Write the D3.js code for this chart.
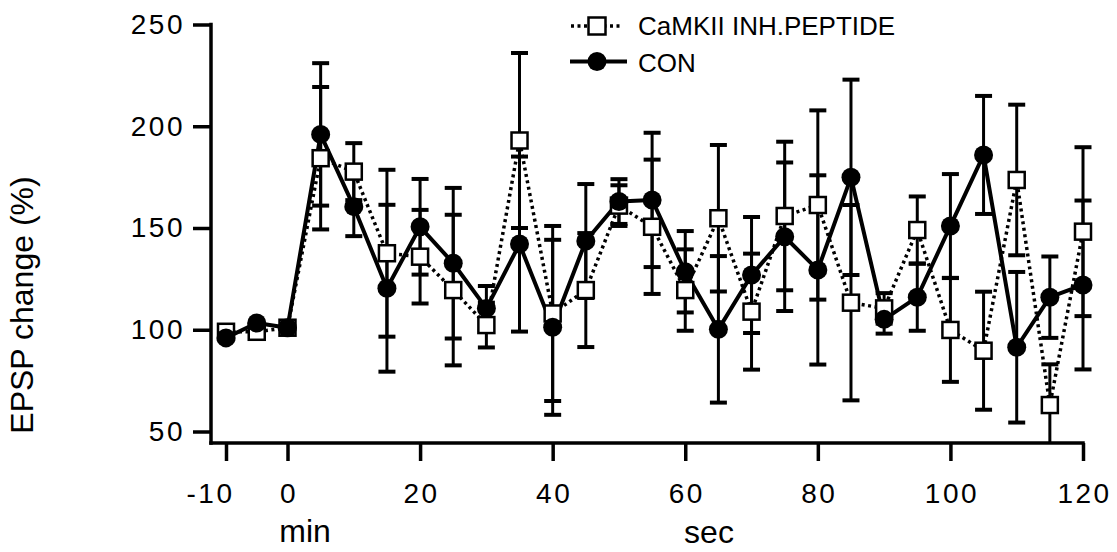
<!DOCTYPE html>
<html>
<head>
<meta charset="utf-8">
<script src="https://cdn.jsdelivr.net/npm/d3@7/dist/d3.min.js"></script>
<style>
  html, body { margin: 0; padding: 0; background: #fff; }
  svg { display: block; font-family: "Liberation Sans", Arial, Helvetica, sans-serif; }
</style>
</head>
<body>
<svg id="chart" width="1117" height="552"></svg>
<script>
// Time points: -10, -5, 0 are minutes before tetanus; the rest are seconds after.
const times = [-10, -5, 0, 5, 10, 15, 20, 25, 30, 35, 40, 45, 50, 55, 60,
               65, 70, 75, 80, 85, 90, 95, 100, 105, 110, 115, 120];

// Control group: EPSP change (%) and error
const conValues = [96, 103.3, 101, 196, 160.5, 120.4, 150.6, 132.7, 110.5, 142.1, 101.2, 143.6, 163, 163.8,
                   128.5, 100.2, 126.9, 145.7, 129.4, 174.9, 105.1, 116, 151, 185.9, 91.4, 116, 122];
const conErrors = [0, 0, 0, 35, 14.5, 41, 23.5, 37, 11, 43, 43, 28, 11, 33,
                   20, 36, 28.5, 36.5, 46.5, 48, 7, 16.5, 25.5, 29, 37, 20, 41.5];

// CaMKII inhibitory peptide group
const pepValues = [99, 99, 101, 184.3, 177.7, 137.6, 135.9, 119.5, 102.3, 193, 108, 119.5, 161, 150.6,
                   119.5, 154.8, 108.9, 155.9, 161.3, 113.3, 110.5, 149, 99.9, 89.7, 173.6, 63, 148.2];
const pepErrors = [0, 0, 0, 35, 14, 41, 23, 37, 11, 43, 43, 28, 10, 33,
                   20, 36, 28.5, 36.5, 46.5, 48, 7.5, 16.5, 25.5, 29, 37, 20, 41.5];

const xTickValues = [-10, 0, 20, 40, 60, 80, 100, 120];
const yTickValues = [50, 100, 150, 200, 250];
const legendLabels = ["CaMKII INH.PEPTIDE", "CON"];

const svg = d3.select("#chart");

// Minutes (-10..0) and seconds (0..120) share one axis with different spacing.
const x = d3.scaleLinear().domain([-10, 0, 120]).range([226, 287.5, 1083]);
const y = d3.scaleLinear().domain([50, 250]).range([431.5, 24.5]);
const axisY = 443;   // vertical position of the x-axis line
const axisX = 211;   // horizontal position of the y-axis line

const ink = "#000";
const tickFont = 28;

// ---- axes ----
const yAxis = d3.axisLeft(y).tickValues(yTickValues).tickSize(18).tickPadding(8);
const gy = svg.append("g").attr("transform", `translate(${axisX},0)`).call(yAxis);
gy.select(".domain").remove();
gy.selectAll(".tick line").attr("stroke", ink).attr("stroke-width", 3.5);
gy.selectAll(".tick text")
  .attr("fill", ink).attr("font-size", tickFont).attr("letter-spacing", 2.5)
  .attr("font-family", "Liberation Sans, Arial, sans-serif");

svg.append("line")
  .attr("x1", axisX).attr("x2", axisX)
  .attr("y1", y(250) - 1.75).attr("y2", axisY + 1.75)
  .attr("stroke", ink).attr("stroke-width", 3.5);

const xAxis = d3.axisBottom(x).tickValues(xTickValues).tickSize(18).tickPadding(22)
  .tickFormat(d => d < 0 ? "-" + Math.abs(d) : String(d));
const gx = svg.append("g").attr("transform", `translate(0,${axisY})`).call(xAxis);
gx.select(".domain").remove();
gx.selectAll(".tick line").attr("stroke", ink).attr("stroke-width", 3.5);
gx.selectAll(".tick text")
  .attr("fill", ink).attr("font-size", tickFont).attr("letter-spacing", 2.5)
  .attr("font-family", "Liberation Sans, Arial, sans-serif")
  .attr("dx", d => d < 0 ? -16 : 1);

svg.append("line")
  .attr("x1", axisX - 1.75).attr("x2", x(120) + 1.75)
  .attr("y1", axisY).attr("y2", axisY)
  .attr("stroke", ink).attr("stroke-width", 3.5);

// ---- axis titles ----
svg.append("text")
  .attr("transform", "translate(33,305) rotate(-90)")
  .attr("text-anchor", "middle").attr("font-size", 32).attr("fill", ink)
  .text("EPSP change (%)");
svg.append("text")
  .attr("x", 305).attr("y", 542).attr("text-anchor", "middle")
  .attr("font-size", 32).attr("fill", ink).text("min");
svg.append("text")
  .attr("x", 709).attr("y", 543).attr("text-anchor", "middle")
  .attr("font-size", 32).attr("fill", ink).text("sec");

// ---- data ----
const con = times.map((t, i) => ({ t, v: conValues[i], e: conErrors[i] }));
const pep = times.map((t, i) => ({ t, v: pepValues[i], e: pepErrors[i] }));

svg.append("clipPath").attr("id", "plotClip")
  .append("rect").attr("x", axisX).attr("y", 0)
  .attr("width", 1117 - axisX).attr("height", axisY);

const plot = svg.append("g").attr("clip-path", "url(#plotClip)");

const line = d3.line().x(d => x(d.t)).y(d => y(d.v));

// Error bars for both groups (solid)
function errorBars(data) {
  const g = plot.append("g");
  const withErr = data.filter(d => d.e > 0);
  g.selectAll("line.stem").data(withErr).join("line")
    .attr("x1", d => x(d.t)).attr("x2", d => x(d.t))
    .attr("y1", d => y(d.v + d.e)).attr("y2", d => y(d.v - d.e))
    .attr("stroke", ink).attr("stroke-width", 3);
  [1, -1].forEach(s => {
    g.selectAll(null).data(withErr).join("line")
      .attr("x1", d => x(d.t) - 8.5).attr("x2", d => x(d.t) + 8.5)
      .attr("y1", d => y(d.v + s * d.e)).attr("y2", d => y(d.v + s * d.e))
      .attr("stroke", ink).attr("stroke-width", 4);
  });
}
errorBars(pep);
errorBars(con);

// Peptide: dotted line with open squares
plot.append("path").datum(pep)
  .attr("d", line).attr("fill", "none")
  .attr("stroke", ink).attr("stroke-width", 3.5).attr("stroke-dasharray", "3,3.5");

// Control: solid line
plot.append("path").datum(con)
  .attr("d", line).attr("fill", "none")
  .attr("stroke", ink).attr("stroke-width", 4).attr("stroke-linejoin", "round");

const sq = 16;
plot.selectAll("rect.pep").data(pep).join("rect")
  .attr("x", d => x(d.t) - sq / 2).attr("y", d => y(d.v) - sq / 2)
  .attr("width", sq).attr("height", sq)
  .attr("fill", "#fff").attr("stroke", ink).attr("stroke-width", 2.5);

plot.selectAll("circle.con").data(con).join("circle")
  .attr("cx", d => x(d.t)).attr("cy", d => y(d.v)).attr("r", 9.5)
  .attr("fill", ink);

// ---- legend ----
const lg = svg.append("g");
// peptide entry
lg.append("line").attr("x1", 571).attr("x2", 622).attr("y1", 26).attr("y2", 26)
  .attr("stroke", ink).attr("stroke-width", 3.5).attr("stroke-dasharray", "3,3.5");
lg.append("rect").attr("x", 597 - 8.5).attr("y", 26 - 8.5).attr("width", 17).attr("height", 17)
  .attr("fill", "#fff").attr("stroke", ink).attr("stroke-width", 2.5);
lg.append("text").attr("x", 638).attr("y", 35).attr("font-size", 26).attr("fill", ink)
  .text(legendLabels[0]);
// control entry
lg.append("line").attr("x1", 570).attr("x2", 627).attr("y1", 61.5).attr("y2", 61.5)
  .attr("stroke", ink).attr("stroke-width", 4);
lg.append("circle").attr("cx", 597).attr("cy", 61.5).attr("r", 9.5).attr("fill", ink);
lg.append("text").attr("x", 638).attr("y", 72).attr("font-size", 26).attr("fill", ink)
  .text(legendLabels[1]);
</script>
</body>
</html>
